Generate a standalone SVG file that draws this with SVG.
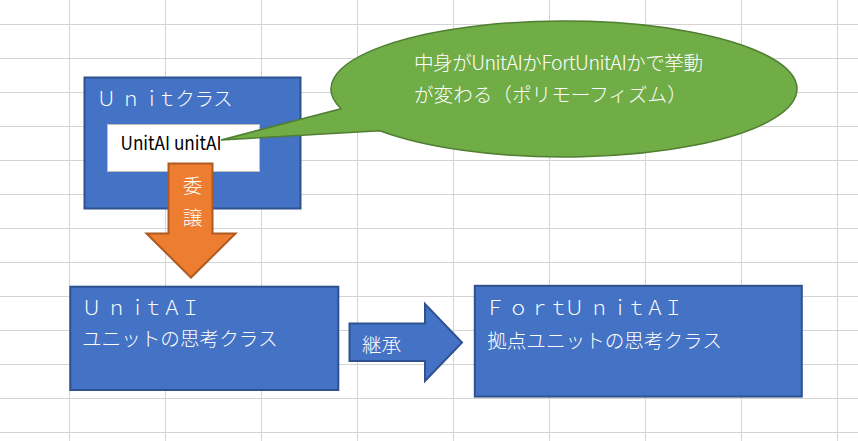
<svg xmlns="http://www.w3.org/2000/svg" width="858" height="441" viewBox="0 0 858 441">
  <defs>
    <style>
      .grid line { stroke: #d4d4d4; stroke-width: 1; }
      .box { fill: #4472c4; stroke: #2f528f; stroke-width: 2; }
      .jp { font-family: "Noto Sans CJK JP", "Noto Sans", sans-serif; fill: #ffffff; font-size: 19.6px; font-weight: 300; }
      .mid { text-anchor: middle; }
    </style>
  </defs>
  <rect width="858" height="441" fill="#ffffff"/>
  <g class="grid" id="grid">
    <line x1="69.5" y1="0" x2="69.5" y2="441"/>
    <line x1="165.5" y1="0" x2="165.5" y2="441"/>
    <line x1="261.5" y1="0" x2="261.5" y2="441"/>
    <line x1="357.5" y1="0" x2="357.5" y2="441"/>
    <line x1="453.5" y1="0" x2="453.5" y2="441"/>
    <line x1="549.5" y1="0" x2="549.5" y2="441"/>
    <line x1="645.5" y1="0" x2="645.5" y2="441"/>
    <line x1="741.5" y1="0" x2="741.5" y2="441"/>
    <line x1="837.5" y1="0" x2="837.5" y2="441"/>
    <line x1="0" y1="24.5" x2="858" y2="24.5"/>
    <line x1="0" y1="58.5" x2="858" y2="58.5"/>
    <line x1="0" y1="92.5" x2="858" y2="92.5"/>
    <line x1="0" y1="126.5" x2="858" y2="126.5"/>
    <line x1="0" y1="160.5" x2="858" y2="160.5"/>
    <line x1="0" y1="194.5" x2="858" y2="194.5"/>
    <line x1="0" y1="228.5" x2="858" y2="228.5"/>
    <line x1="0" y1="262.5" x2="858" y2="262.5"/>
    <line x1="0" y1="296.5" x2="858" y2="296.5"/>
    <line x1="0" y1="330.5" x2="858" y2="330.5"/>
    <line x1="0" y1="364.5" x2="858" y2="364.5"/>
    <line x1="0" y1="398.5" x2="858" y2="398.5"/>
    <line x1="0" y1="432.5" x2="858" y2="432.5"/>
  </g>

  <g id="unit">
    <rect class="box" x="84.5" y="77.5" width="216" height="131"/>
    <text class="jp mid" x="106.3 130.8 151.8 166.7 185 204.2 222.8" y="106">Ｕｎｉｔクラス</text>
    <rect x="107.5" y="124.5" width="152" height="47" fill="#ffffff" stroke="#bfbfbf" stroke-width="1"/>
    <text x="120.5" y="150" font-family="Noto Sans CJK JP, Noto Sans, sans-serif" font-size="19" fill="#000000" textLength="101" lengthAdjust="spacingAndGlyphs">UnitAI unitAI</text>
  </g>

  <g id="callout">
    <path d="M 341 108.7 L 221 140 L 380 130.7 A 233 68 0 1 0 341 108.7 Z" fill="#70ad47" stroke="#507e32" stroke-width="1.5"/>
    <text class="jp" font-size="19" x="414" y="70" textLength="289" lengthAdjust="spacing">中身がUnitAIかFortUnitAIかで挙動</text>
    <text class="jp" font-size="19" x="414" y="101.5">が変わる（ポリモーフィズム）</text>
  </g>

  <g id="connectors">
    <g id="delegate">
      <polygon points="168.5,163.5 212.5,163.5 212.5,233.5 235.5,233.5 191,277.5 146.5,233.5 168.5,233.5" fill="#ed7d31" stroke="#ae5a21" stroke-width="2"/>
      <text class="jp mid" x="192.5" y="193">委</text>
      <text class="jp mid" x="192.5" y="224.5">譲</text>
    </g>
    <g id="inherit">
      <polygon points="349.5,323.5 425,323.5 425,304 462,342.5 425,381 425,361 349.5,361" fill="#4472c4" stroke="#2f528f" stroke-width="2"/>
      <text class="jp" x="362" y="351.5">継承</text>
    </g>
  </g>

  <g id="unitai">
    <rect class="box" x="70.3" y="286.7" width="268" height="103.3"/>
    <text class="jp mid" x="91.5 116.5 137.5 153 172 190.5" y="315">ＵｎｉｔＡＩ</text>
    <text class="jp" x="82" y="346">ユニットの思考クラス</text>
  </g>

  <g id="fortunitai">
    <rect class="box" x="474.8" y="285.8" width="327" height="110.8"/>
    <text class="jp mid" x="495 518.3 539.5 558.3 574.2 599.2 620 636.3 655 673.3" y="315">ＦｏｒｔＵｎｉｔＡＩ</text>
    <text class="jp" x="487.2" y="347.5">拠点ユニットの思考クラス</text>
  </g>
</svg>
